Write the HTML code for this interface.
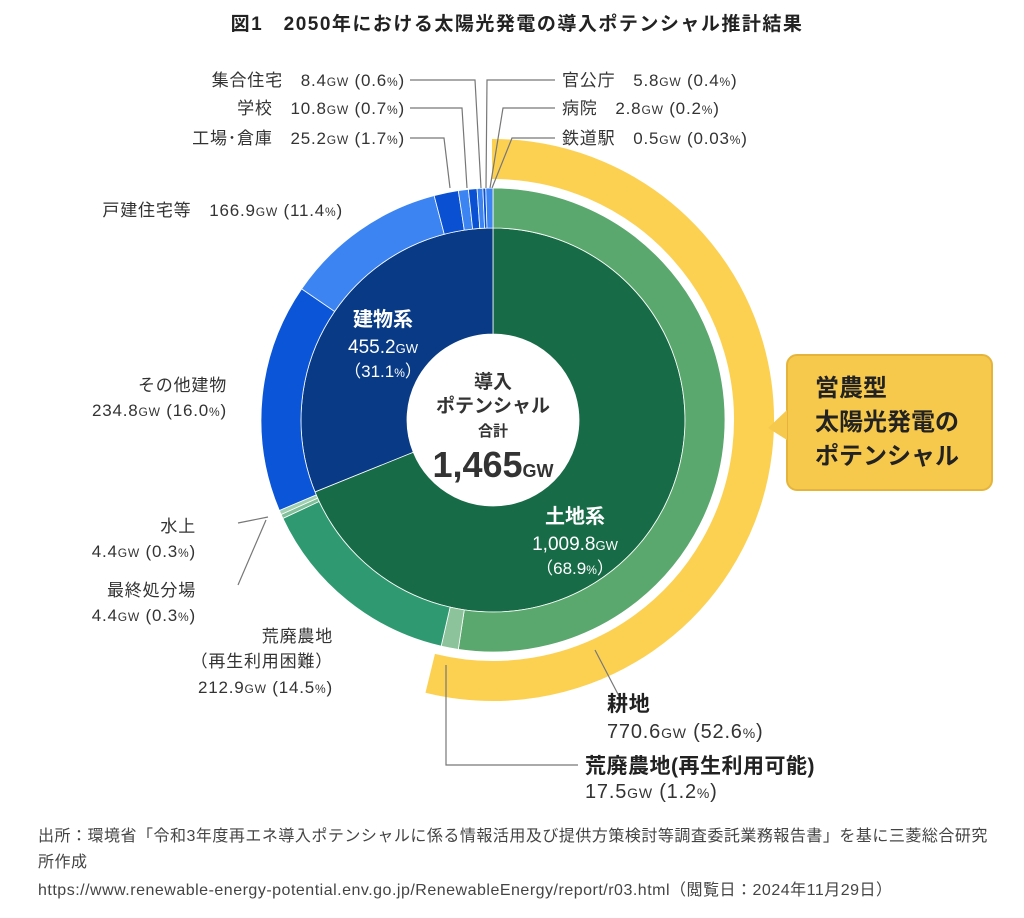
<!DOCTYPE html>
<html><head><meta charset="utf-8"><style>
body{margin:0;background:#fff;width:1024px;height:913px;overflow:hidden;font-family:"Liberation Sans","Noto Sans CJK JP",sans-serif;}
svg text{font-family:"Liberation Sans","Noto Sans CJK JP",sans-serif;}
</style></head><body>
<svg id="s" width="1024" height="913" xmlns="http://www.w3.org/2000/svg">
<text x="517" y="30" text-anchor="middle" font-size="19" font-weight="bold" fill="#222" letter-spacing="1.5">図1　2050年における太陽光発電の導入ポテンシャル推計結果</text>
<g id="arcs"></g>
<circle cx="493" cy="420" r="86" fill="#fff"/>
<g fill="#333" font-size="15">
<text x="493" y="388" text-anchor="middle" font-size="19" font-weight="bold">導入</text>
<text x="493" y="412" text-anchor="middle" font-size="19" font-weight="bold">ポテンシャル</text>
<text x="493" y="436" text-anchor="middle" font-size="15" font-weight="bold">合計</text>
<text x="493" y="477" text-anchor="middle" font-size="36" font-weight="bold">1,465<tspan font-size="18">GW</tspan></text>
</g>
<g fill="#fff" text-anchor="middle">
<text x="383" y="326" font-size="20" font-weight="bold">建物系</text>
<text x="383" y="353" font-size="19">455.2<tspan font-size="13">GW</tspan></text>
<text x="383" y="377" font-size="17">（31.1<tspan font-size="12">%</tspan>）</text>
<text x="575" y="523" font-size="20" font-weight="bold">土地系</text>
<text x="575" y="550" font-size="19">1,009.8<tspan font-size="13">GW</tspan></text>
<text x="575" y="574" font-size="17">（68.9<tspan font-size="12">%</tspan>）</text>
</g>
<rect x="787" y="355" width="205" height="135" rx="10" fill="#f6c84c" stroke="#e5b53b" stroke-width="2"/>
<polygon points="787,410 768,428 787,440" fill="#f6c84c"/>
<g fill="#222" font-size="24" font-weight="bold">
<text x="815" y="396">営農型</text><text x="815" y="430">太陽光発電の</text><text x="815" y="464">ポテンシャル</text>
</g>
<g fill="none" stroke="#777" stroke-width="1.2">
<polyline points="410,80 475,80 481,188"/>
<polyline points="410,108 462,108 467,188"/>
<polyline points="410,138 444,138 450,188"/>
<polyline points="555,80 487,80 486,188"/>
<polyline points="555,108 503,108 490,188"/>
<polyline points="555,138 512,138 492,188"/>
<polyline points="238,523 268,517"/>
<polyline points="238,585 266,520"/>
<polyline points="620,698 595,650"/>
<polyline points="578,765 446,765 446,665"/>
</g>
<g fill="#333" font-size="17" letter-spacing="0.8">
<g text-anchor="end">
<text x="405" y="86">集合住宅　8.4<tspan font-size="12">GW</tspan> (0.6<tspan font-size="12">%</tspan>)</text>
<text x="405" y="114">学校　10.8<tspan font-size="12">GW</tspan> (0.7<tspan font-size="12">%</tspan>)</text>
<text x="405" y="144">工場･倉庫　25.2<tspan font-size="12">GW</tspan> (1.7<tspan font-size="12">%</tspan>)</text>
<text x="343" y="216">戸建住宅等　166.9<tspan font-size="12">GW</tspan> (11.4<tspan font-size="12">%</tspan>)</text>
<text x="227" y="391">その他建物</text>
<text x="227" y="416">234.8<tspan font-size="12">GW</tspan> (16.0<tspan font-size="12">%</tspan>)</text>
<text x="196" y="532">水上</text>
<text x="196" y="557">4.4<tspan font-size="12">GW</tspan> (0.3<tspan font-size="12">%</tspan>)</text>
<text x="196" y="596">最終処分場</text>
<text x="196" y="621">4.4<tspan font-size="12">GW</tspan> (0.3<tspan font-size="12">%</tspan>)</text>
<text x="333" y="642">荒廃農地</text>
<text x="333" y="667">（再生利用困難）</text>
<text x="333" y="693">212.9<tspan font-size="12">GW</tspan> (14.5<tspan font-size="12">%</tspan>)</text>
</g>
<text x="562" y="86">官公庁　5.8<tspan font-size="12">GW</tspan> (0.4<tspan font-size="12">%</tspan>)</text>
<text x="562" y="114">病院　2.8<tspan font-size="12">GW</tspan> (0.2<tspan font-size="12">%</tspan>)</text>
<text x="562" y="144">鉄道駅　0.5<tspan font-size="12">GW</tspan> (0.03<tspan font-size="12">%</tspan>)</text>
<text x="607" y="711" font-size="21" font-weight="bold" fill="#222">耕地</text>
<text x="607" y="738" font-size="20">770.6<tspan font-size="14">GW</tspan> (52.6<tspan font-size="14">%</tspan>)</text>
<text x="585" y="773" font-size="21" font-weight="bold" fill="#222" letter-spacing="0.5">荒廃農地(再生利用可能)</text>
<text x="585" y="798" font-size="20">17.5<tspan font-size="14">GW</tspan> (1.2<tspan font-size="14">%</tspan>)</text>
</g>
<g fill="#444" font-size="16" letter-spacing="0.5">
<text x="38" y="841">出所：環境省「令和3年度再エネ導入ポテンシャルに係る情報活用及び提供方策検討等調査委託業務報告書」を基に三菱総合研究</text>
<text x="38" y="867">所作成</text>
<text x="38" y="895">https://www.renewable-energy-potential.env.go.jp/RenewableEnergy/report/r03.html（閲覧日：2024年11月29日）</text>
</g>
</svg>
<script>
var cx=493,cy=420,g=document.getElementById('arcs');
function pt(r,a){a=a*Math.PI/180;return [cx+r*Math.sin(a),cy-r*Math.cos(a)];}
function arc(r0,r1,a0,a1,fill,stroke){
var p1=pt(r1,a0),p2=pt(r1,a1),p3=pt(r0,a1),p4=pt(r0,a0),l=(a1-a0)>180?1:0;
var d='M'+p1+' A'+r1+','+r1+' 0 '+l+' 1 '+p2+' L'+p3+' A'+r0+','+r0+' 0 '+l+' 0 '+p4+'Z';
var e=document.createElementNS('http://www.w3.org/2000/svg','path');
e.setAttribute('d',d);e.setAttribute('fill',fill);e.setAttribute('stroke',stroke||'#fff');e.setAttribute('stroke-width',stroke?2:0.8);g.appendChild(e);}
arc(242,280,0,193.7,'#fcd152','#fcd152');
arc(86,192,0,248,'#176b47');
arc(86,192,248,360,'#083a85');
var segs=[[52.6,'#5aa86e'],[1.2,'#8cc39a'],[14.5,'#2f9a72'],[0.3,'#7fbf9a'],[0.3,'#9fd0b0'],[16.0,'#0a55d8'],[11.4,'#3c84f2'],[1.7,'#0a50d2'],[0.7,'#3c84f2'],[0.6,'#0a50d2'],[0.4,'#3c84f2'],[0.2,'#0a50d2'],[0.5,'#3c84f2']];
var tot=0;segs.forEach(function(s){tot+=s[0];});
var a=0;segs.forEach(function(s){var w=s[0]/tot*360;arc(192,232,a,a+w,s[1]);a+=w;});
</script>
</body></html>
